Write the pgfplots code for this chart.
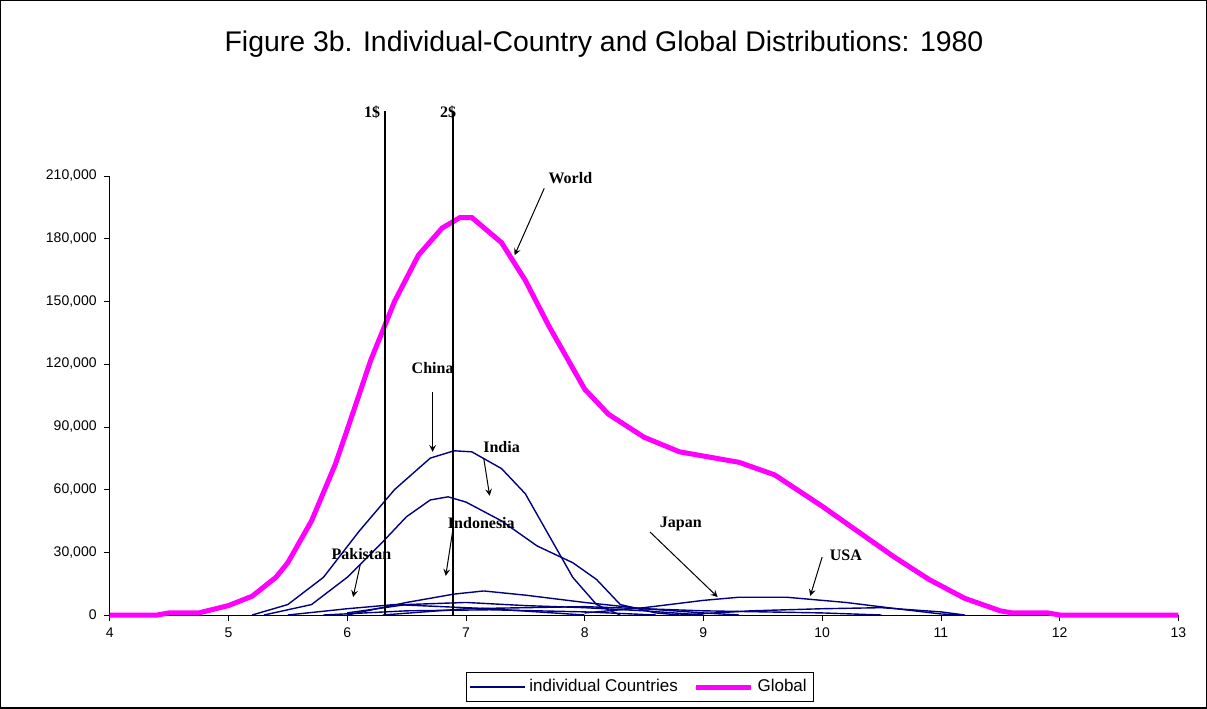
\documentclass[border=0pt]{standalone}
\usepackage{pgfplots}
\pgfplotsset{compat=1.18}
\usepackage{fontspec}
\setmainfont{Liberation Sans}
\newfontfamily\serifb{Liberation Serif}
\definecolor{navy}{RGB}{0,0,128}
\definecolor{mag}{RGB}{255,0,255}
\begin{document}
\begin{tikzpicture}
\begin{axis}[name=ax, scale only axis, width=534pt, height=219.5pt,
 xmin=4, xmax=13, ymin=0, ymax=210000,
 axis lines=left, axis line style={-}, clip=false,
 xtick={4,...,13}, ytick={0,30000,...,210000},
 tick align=outside, tick style={black}, major tick length=3pt,
 scaled y ticks=false,
 yticklabel={\pgfmathprintnumber[fixed,1000 sep={,}]{\tick}},
 /pgf/number format/assume math mode=true,
 tick label style={font=\fontsize{7}{8}\selectfont},
 legend style={at={(265pt,-36pt)}, anchor=center, legend columns=2, font=\fontsize{8.5}{10}\selectfont, draw=black, inner sep=1.5pt, /tikz/every even column/.append style={column sep=6pt}},
 legend image post style={xscale=1.6},
 legend cell align=left]
\addplot[navy, line width=0.7pt] coordinates {(5.2,0)(5.5,5000)(5.8,18000)(6.1,40000)(6.4,60000)(6.7,75000)(6.9,78500)(7.05,78000)(7.3,70000)(7.5,58000)(7.7,38000)(7.9,18000)(8.1,5000)(8.3,0)};
\addlegendentry{individual Countries}
\addplot[mag, line width=2.5pt] coordinates {(4,0)(4.4,0)(4.5,1000)(4.75,1000)(5,4500)(5.2,9000)(5.4,18000)(5.5,25000)(5.7,45000)(5.9,72000)(6.0,88500)(6.2,122000)(6.4,150000)(6.6,172000)(6.8,185000)(6.95,190000)(7.05,190000)(7.3,178000)(7.5,160000)(7.7,138000)(8.0,108000)(8.2,96000)(8.5,85000)(8.8,78000)(9.0,76000)(9.3,73000)(9.6,67000)(10,52000)(10.3,40000)(10.6,28000)(10.9,17000)(11.2,8000)(11.5,2000)(11.6,1000)(11.9,1000)(12,0)(13,0)};
\addlegendentry{Global}
\addplot[navy, line width=0.7pt, forget plot] coordinates {(5.3,0)(5.7,5000)(6.0,18000)(6.3,35000)(6.5,47000)(6.7,55000)(6.85,56500)(7.0,54000)(7.3,45000)(7.6,33000)(7.9,25000)(8.1,17000)(8.3,5000)(8.6,1000)(8.8,0)};
\addplot[navy, line width=0.7pt, forget plot] coordinates {(6.0,0)(6.5,6000)(6.9,10000)(7.15,11500)(7.5,9500)(8.0,6000)(8.5,3000)(9,1000)(9.3,0)};
\addplot[navy, line width=0.7pt, forget plot] coordinates {(8.0,1000)(8.5,3500)(9.0,7000)(9.3,8500)(9.7,8500)(10.2,6000)(10.7,2500)(11,500)(11.2,0)};
\addplot[navy, line width=0.7pt, forget plot] coordinates {(8.8,0)(9.4,2000)(10,3000)(10.5,3500)(11,1500)(11.2,0)};
\addplot[navy, line width=0.7pt, forget plot] coordinates {(5.5,0)(6.0,3000)(6.4,5000)(6.8,4000)(7.2,3000)(7.6,1500)(8,0)};
\addplot[navy, line width=0.7pt, forget plot] coordinates {(6,1000)(6.5,5000)(7,6000)(7.5,4500)(8,3500)(8.5,2000)(9,0)};
\addplot[navy, line width=0.7pt, forget plot] coordinates {(6.3,0)(7,3000)(8,4000)(9,2000)(10,1000)(10.5,0)};
\addplot[navy, line width=0.7pt, forget plot] coordinates {(5.8,0)(6.5,2000)(7.2,2500)(8,1500)(8.6,0)};
\addplot[black, line width=0.7pt, forget plot] coordinates {(6.32,0)(6.32,241000)};
\addplot[black, line width=0.7pt, forget plot] coordinates {(6.89,0)(6.89,241000)};
\begin{scope}[font=\serifb\bfseries\fontsize{8}{9}\selectfont]
\node[anchor=base] at (axis cs:6.21,238000) {1\$};
\node[anchor=base] at (axis cs:6.85,238000) {2\$};
\node at (axis cs:7.88,209000) {World};
\node at (axis cs:6.72,118000) {China};
\node at (axis cs:7.30,80400) {India};
\node at (axis cs:7.13,44000) {Indonesia};
\node at (axis cs:6.12,29000) {Pakistan};
\node at (axis cs:8.81,43500) {Japan};
\node at (axis cs:10.2,28700) {USA};
\end{scope}
\begin{scope}[->, >=stealth, black, line width=0.5pt]
\draw (axis cs:7.66,204000) -- (axis cs:7.41,172000);
\draw (axis cs:6.72,106700) -- (axis cs:6.72,78000);
\draw (axis cs:7.15,75000) -- (axis cs:7.2,57000);
\draw (axis cs:6.89,40700) -- (axis cs:6.83,18700);
\draw (axis cs:6.11,24000) -- (axis cs:6.05,8600);
\draw (axis cs:8.55,39700) -- (axis cs:9.12,8600);
\draw (axis cs:10.0,27700) -- (axis cs:9.9,9100);
\end{scope}
\end{axis}
\node[font=\fontsize{14.2}{16}\selectfont] at ([shift={(247pt,285pt)}]ax.south west) {Figure 3b. Individual-Country and Global Distributions: 1980};
\draw[black, line width=0.6pt] ([shift={(-54.5pt,-46.5pt)}]ax.south west) rectangle +(602.5pt,353.5pt);
\end{tikzpicture}
\end{document}
